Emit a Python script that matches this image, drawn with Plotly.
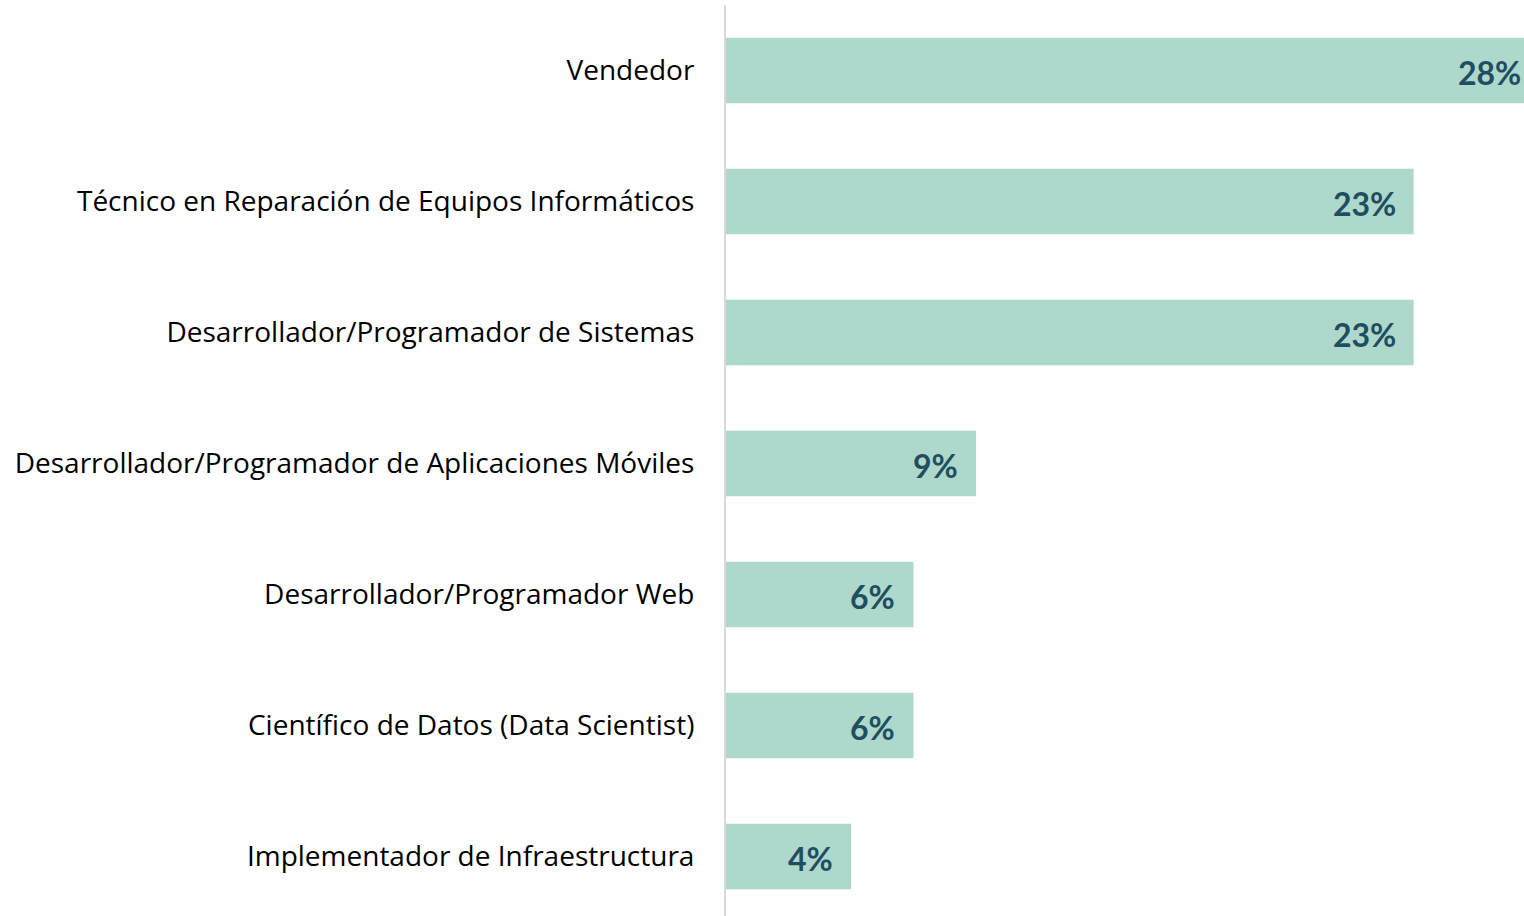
import plotly.graph_objects as go

categories = [
    "Vendedor",
    "Técnico en Reparación de Equipos Informáticos",
    "Desarrollador/Programador de Sistemas",
    "Desarrollador/Programador de Aplicaciones Móviles",
    "Desarrollador/Programador Web",
    "Científico de Datos (Data Scientist)",
    "Implementador de Infraestructura",
]
values = [27.66, 23.40, 23.40, 8.51, 6.38, 6.38, 4.26]
labels = ["28%", "23%", "23%", "9%", "6%", "6%", "4%"]

bar_color = "#ADD8CB"
label_color = "#1F4E60"

ypos = list(range(len(categories)))

fig = go.Figure()
fig.add_trace(go.Bar(
    x=values,
    y=ypos,
    orientation="h",
    marker=dict(color=bar_color, line=dict(width=0)),
    width=0.5,
    hoverinfo="skip",
))

for i, (v, t) in enumerate(zip(values, labels)):
    fig.add_annotation(
        x=v, y=i, xref="x", yref="y", text=f"<b>{t}</b>",
        showarrow=False, xanchor="right", yanchor="middle",
        xshift=-16, yshift=-2,
        font=dict(family="Lato", size=32, color=label_color),
    )

# The figure is wider than the 1524px window; the page clips the right edge,
# as the reference image is cropped through the longest bar.
fig.update_layout(
    width=1545, height=916,
    margin=dict(l=726, r=0, t=5, b=0, autoexpand=False),
    paper_bgcolor="white", plot_bgcolor="white",
    showlegend=False,
    xaxis=dict(range=[0, 27.87], showgrid=False, zeroline=False,
               showticklabels=False, showline=False, fixedrange=True),
    yaxis=dict(
        range=[6.454, -0.5],
        tickmode="array",
        tickvals=ypos,
        ticktext=categories,
        showgrid=False, zeroline=False,
        showline=True, linecolor="#D9D9D9", linewidth=2,
        ticks="", ticklabelstandoff=24,
        tickfont=dict(family="Open Sans", size=28, color="#000000"),
        automargin=False, fixedrange=True,
    ),
)

fig.write_html(
    "out.html",
    config={"displayModeBar": False},
    post_script="document.body.style.margin='0';document.body.style.overflow='hidden';",
)
